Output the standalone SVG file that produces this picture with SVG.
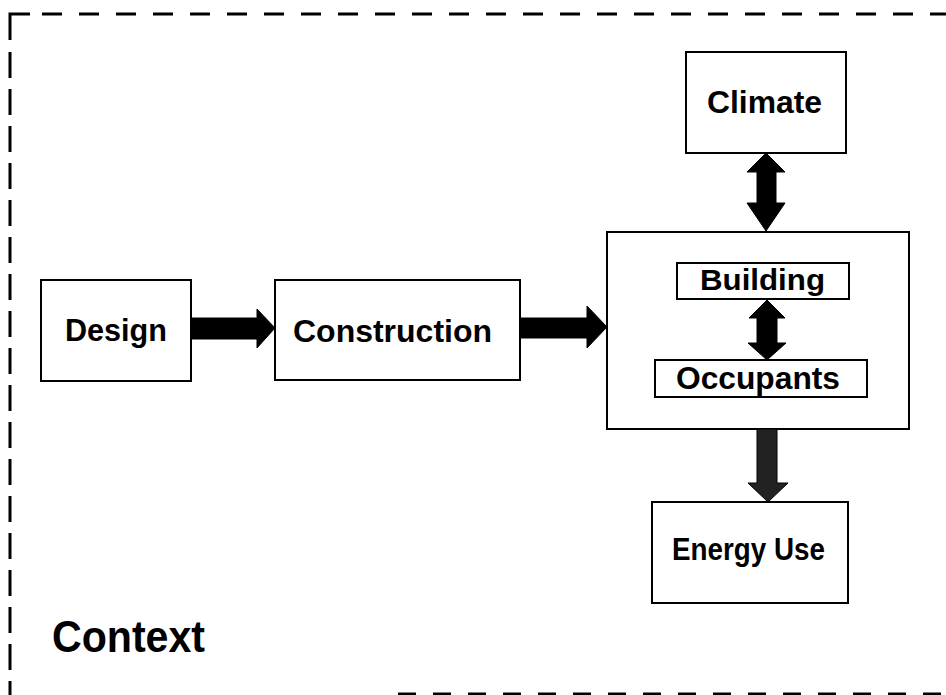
<svg xmlns="http://www.w3.org/2000/svg" width="946" height="695" viewBox="0 0 946 695">
<style>
.box{fill:#fff;stroke:#000;stroke-width:2}
.lbl{font-family:"Liberation Sans",Arial,sans-serif;font-weight:bold;fill:#000}
.frame{fill:none;stroke:#000;stroke-width:3}
.arr{fill:#000;stroke:#000;stroke-width:1;stroke-linejoin:round}
</style>
<rect width="946" height="695" fill="#fff"/>
<g id="context-frame">
<path class="frame" d="M10 40 V14 H30"/>
<line class="frame" x1="10" y1="52" x2="10" y2="695" stroke-dasharray="26 11"/>
<line class="frame" x1="42" y1="14" x2="946" y2="14" stroke-dasharray="20 17"/>
<line class="frame" x1="398" y1="694" x2="946" y2="694" stroke-dasharray="18 17"/>
<text class="lbl" x="52" y="652" font-size="44" textLength="153" lengthAdjust="spacingAndGlyphs">Context</text>
</g>
<g id="design">
<rect class="box" x="41" y="280" width="150" height="101"/>
<text class="lbl" x="65" y="341" font-size="31" textLength="102" lengthAdjust="spacingAndGlyphs">Design</text>
</g>
<g id="construction">
<rect class="box" x="275" y="280" width="245" height="100"/>
<text class="lbl" x="293" y="342" font-size="31" textLength="199" lengthAdjust="spacingAndGlyphs">Construction</text>
</g>
<g id="climate">
<rect class="box" x="686" y="52" width="160" height="101"/>
<text class="lbl" x="707" y="113" font-size="31" textLength="115" lengthAdjust="spacingAndGlyphs">Climate</text>
</g>
<g id="system">
<rect class="box" x="607" y="232" width="302" height="197"/>
</g>
<g id="building">
<rect class="box" x="677" y="263" width="172" height="36"/>
<text class="lbl" x="700" y="290" font-size="30" textLength="125" lengthAdjust="spacingAndGlyphs">Building</text>
</g>
<g id="occupants">
<rect class="box" x="655" y="360" width="212" height="37"/>
<text class="lbl" x="676" y="389" font-size="32" textLength="164" lengthAdjust="spacingAndGlyphs">Occupants</text>
</g>
<g id="energy-use">
<rect class="box" x="652" y="502" width="196" height="101"/>
<text class="lbl" x="672" y="560" font-size="31" textLength="153" lengthAdjust="spacingAndGlyphs">Energy Use</text>
</g>
<g id="connectors">
<polygon class="arr" points="191,318 257,318 257,309 275,328 257,348 257,339 191,339"/>
<polygon class="arr" points="520,318 587,318 587,306 607,327 587,348 587,338 520,338"/>
<polygon class="arr" points="766,153 785,172 776,172 776,203 785,203 766,231 747,203 757,203 757,172 747,172"/>
<polygon class="arr" points="767,300 785,318 777,318 777,343 786,343 767,360 748,343 757,343 757,318 749,318"/>
<polygon class="arr" points="757,429 777,429 777,483 788,483 768,502 748,483 757,483" style="fill:#222"/>
</g>
</svg>
